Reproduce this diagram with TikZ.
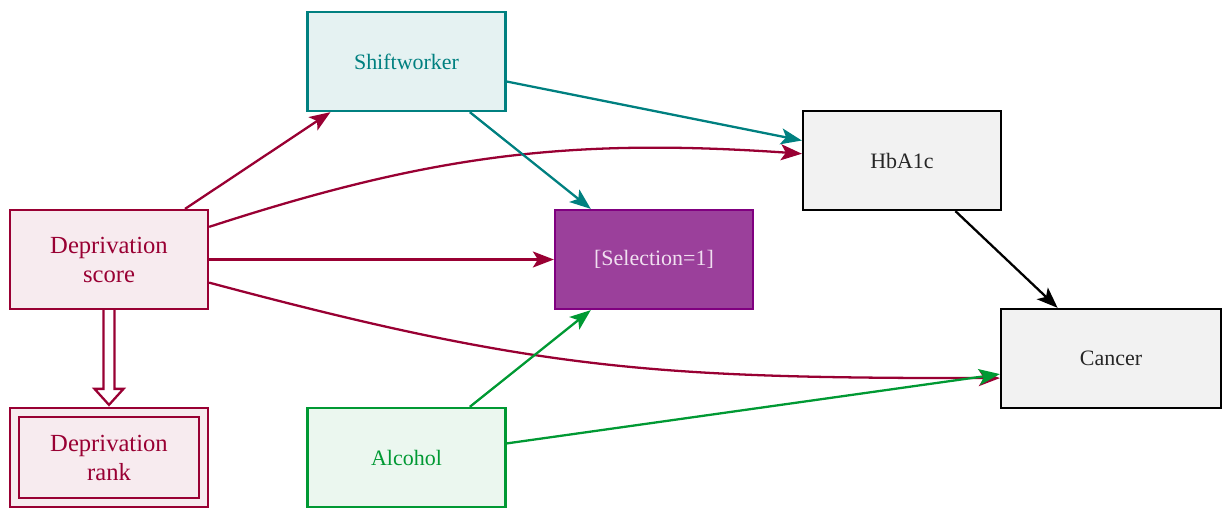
\documentclass[tikz,border=0pt]{standalone}
\usepackage{fontspec}
\setmainfont{Liberation Serif}
\usepackage{tikz}
\usetikzlibrary{arrows.meta,positioning,calc}
\definecolor{DEPcrimson}{RGB}{153,0,51}
\definecolor{SWteal}{RGB}{0,128,128}
\definecolor{ALCgreen}{RGB}{0,153,51}
\definecolor{SELpurple}{RGB}{128,0,128}
\definecolor{SELfill}{RGB}{155,64,155}

\begin{document}
\begin{tikzpicture}[every node/.style={font=\fontsize{12.5}{16.5}\selectfont, align=center},
    box/.style={draw, line width=1.3pt, minimum width=3.96cm, minimum height=1.98cm, inner sep=2pt},
    depbox/.style={box, DEPcrimson, fill=DEPcrimson!8, font=\fontsize{14}{16.5}\selectfont},
    edge/.style={-{Stealth[length=0.42cm, width=0.32cm, inset=0.1cm]}, line width=1.3pt}]
    \useasboundingbox (0,0) rectangle (24.46,10.18);
    \node[depbox] (score) at (2.18,4.99) {Deprivation\\score};
    \node[depbox] (rank) at (2.18,1.03) {Deprivation\\rank};
    \node[box, SWteal, fill=SWteal!10] (shift) at (8.13,8.95) {Shiftworker};
    \node[box, SELpurple, fill=SELfill, text=white!88!SELpurple] (sel) at (13.08,4.99) {[Selection=1]};
    \node[box, black, fill=black!5, text=black!85] (hba) at (18.04,6.97) {HbA1c};
    \node[box, black, fill=black!5, text=black!85, minimum width=4.4cm] (cancer) at (22.22,3.01) {Cancer};
    \node[box, ALCgreen, fill=ALCgreen!8] (alc) at (8.13,1.03) {Alcohol};
    \draw[DEPcrimson, line width=1.3pt] ($(rank.south west)+(.2,.2)$) rectangle ($(rank.north east)+(-.2,-.2)$);
    \draw[DEPcrimson, line width=1.3pt, fill=white] ($(score.south)+(-.11,0)$) -- ($(rank.north)+(-.11,.36)$) -- ($(rank.north)+(-.29,.36)$) -- ($(rank.north)+(0,.04)$) -- ($(rank.north)+(.29,.36)$) -- ($(rank.north)+(.11,.36)$) -- ($(score.south)+(.11,0)$);
    \draw[edge, DEPcrimson] (score) -- (shift);
    \draw[edge, DEPcrimson] (score) to[bend left=11] (hba);
    \draw[edge, DEPcrimson] (score) -- (sel);
    \draw[edge, DEPcrimson] (score.-13) to[out=-15, in=180, looseness=1.1] (cancer.190);
    \draw[edge, SWteal] (shift) -- (hba);
    \draw[edge, SWteal] (shift) -- (sel);
    \draw[edge, ALCgreen] (alc) -- (sel);
    \draw[edge, ALCgreen] (alc) -- (cancer);
    \draw[edge, black] (hba) -- (cancer);
\end{tikzpicture}
\end{document}
